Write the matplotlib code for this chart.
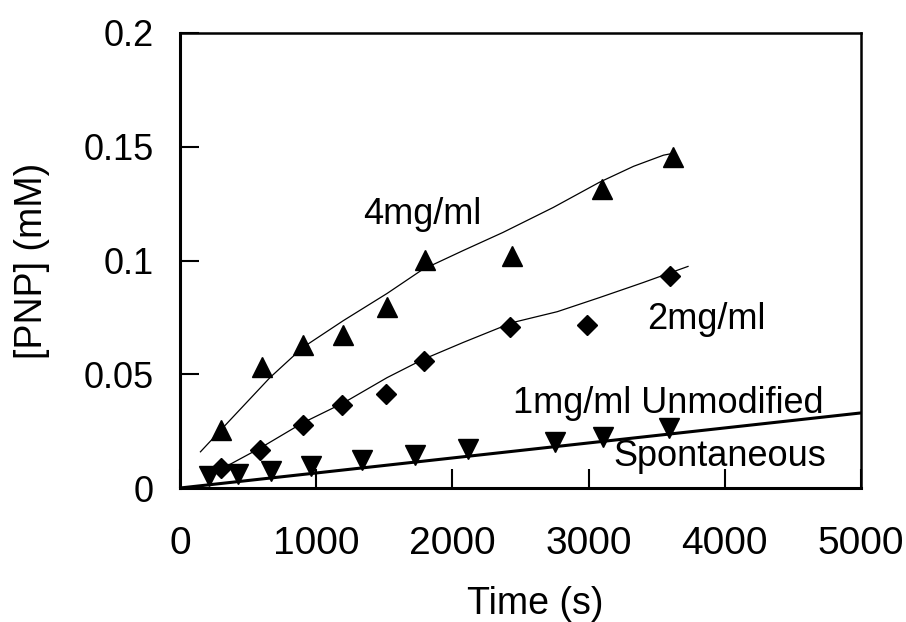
import matplotlib
matplotlib.use("Agg")
import matplotlib.pyplot as plt

plt.rcParams['font.family'] = ['Liberation Sans', 'DejaVu Sans']

# dados
t_4mg = [300, 600, 900, 1200, 1520, 1800, 2440, 3100, 3620]
c_4mg = [0.0256, 0.0533, 0.063, 0.0674, 0.0797, 0.1004, 0.1018, 0.1313, 0.1454]

t_2mg = [300, 590, 900, 1190, 1510, 1790, 2420, 2990, 3600]
c_2mg = [0.0088, 0.0167, 0.0278, 0.0366, 0.0414, 0.0559, 0.0709, 0.0718, 0.093]

t_1mg = [213, 426, 668, 962, 1336, 1725, 2115, 2753, 3106, 3590]
c_1mg = [0.0053, 0.0062, 0.0075, 0.0097, 0.0123, 0.0145, 0.0172, 0.0203, 0.0225, 0.0264]

# curvas de ajuste (pontos lidos ao longo das linhas)
fit4_t = [150, 370, 660, 900, 1200, 1520, 1780, 2080, 2370, 2740, 3080, 3330, 3550, 3620]
fit4_c = [0.0159, 0.030, 0.0485, 0.0617, 0.0736, 0.0855, 0.096, 0.1044, 0.1123, 0.1233,
          0.1344, 0.1414, 0.1463, 0.1471]

fit2_t = [290, 590, 900, 1200, 1520, 1780, 2080, 2440, 2770, 3080, 3400, 3730]
fit2_c = [0.0079, 0.0176, 0.0286, 0.0374, 0.0485, 0.0564, 0.0640, 0.0727, 0.0775, 0.0837,
          0.0903, 0.0974]

spont_t = [0, 5000]
spont_c = [0.0, 0.033]

x_ticks = [0, 1000, 2000, 3000, 4000, 5000]
y_ticks = [0, 0.05, 0.1, 0.15, 0.2]
y_tick_labels = ["0", "0.05", "0.1", "0.15", "0.2"]

fig = plt.figure(figsize=(9.06, 6.22), dpi=100)
ax = fig.add_axes([180 / 906, 134 / 622, 681 / 906, 455 / 622])

# linhas
ax.plot(fit4_t, fit4_c, color="black", lw=0.9)
ax.plot(fit2_t, fit2_c, color="black", lw=0.9)
ax.plot(spont_t, spont_c, color="black", lw=2.2)

# pontos
ax.plot(t_4mg, c_4mg, "^", color="black", ms=15, ls="none")
ax.plot(t_2mg, c_2mg, "D", color="black", ms=10.5, ls="none")
ax.plot(t_1mg, c_1mg, "v", color="black", ms=15, ls="none")

# rótulos no gráfico
ax.text(1344, 0.1159, "4mg/ml", fontsize=26, ha="left", va="baseline")
ax.text(3429, 0.070, "2mg/ml", fontsize=26, ha="left", va="baseline")
ax.text(2445, 0.033, "1mg/ml Unmodified", fontsize=26, ha="left", va="baseline")
ax.text(3179, 0.0097, "Spontaneous", fontsize=26, ha="left", va="baseline")

ax.set_xlim(0, 5000)
ax.set_ylim(0, 0.2)
ax.set_xticks(x_ticks)
ax.set_yticks(y_ticks)
ax.set_yticklabels(y_tick_labels)

ax.tick_params(axis="both", direction="in", length=13.5, width=1.5,
               top=False, right=False)
ax.tick_params(axis="x", labelsize=28, pad=27)
ax.tick_params(axis="y", labelsize=26, pad=19)

for s in ax.spines.values():
    s.set_linewidth(1.8)
ax.spines["left"].set_linewidth(2.2)
ax.spines["bottom"].set_linewidth(2.2)

ax.set_xlabel("Time (s)", fontsize=27, va="center")
ax.xaxis.set_label_coords((535 - 180) / 681, (488 - 604) / 455)
ax.set_ylabel("[PNP] (mM)", fontsize=27, va="center")
ax.yaxis.set_label_coords((32 - 180) / 681, 0.5)

fig.savefig("out.png", dpi=100)
